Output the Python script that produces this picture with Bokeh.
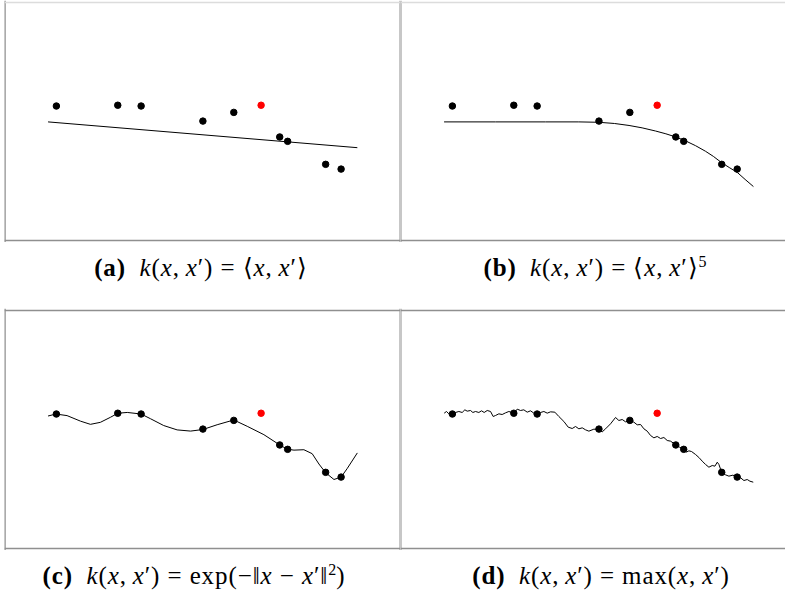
from bokeh.plotting import figure
from bokeh.layouts import column, row
from bokeh.models import Div, Span, Range1d
from bokeh.embed import file_html
from bokeh.resources import INLINE

# ---------------- data ----------------
obs_x = [1.31, 2.86, 3.45, 5.01, 5.79, 6.95, 7.15, 8.11, 8.50]
obs_y = [3.39, 3.41, 3.39, 3.01, 3.23, 2.61, 2.50, 1.92, 1.80]
test_x = [6.48]
test_y = [3.41]

# (a) linear kernel
lin_x = [1.10, 8.91]
lin_y = [2.99, 2.34]

# (b) polynomial kernel, degree 5
poly_x = [1.10, 2.40, 3.66, 4.50, 5.01, 5.40, 5.77, 6.10, 6.44, 6.70,
          6.95, 7.20, 7.45, 7.70, 7.90, 8.11, 8.30, 8.51, 8.70, 8.91]
poly_y = [2.99, 2.99, 2.99, 2.99, 2.98, 2.95, 2.90, 2.84, 2.76, 2.69,
          2.61, 2.51, 2.39, 2.25, 2.12, 1.96, 1.84, 1.71, 1.54, 1.36]

# (c) squared exponential kernel
rbf_x = [1.10, 1.30, 1.58, 1.92, 2.17, 2.42, 2.68, 2.86, 3.10, 3.45,
         3.69, 4.02, 4.36, 4.70, 5.01, 5.37, 5.79, 6.13, 6.55, 6.95,
         7.15, 7.31, 7.56, 7.77, 7.94, 8.11, 8.32, 8.50, 8.65, 8.91]
rbf_y = [3.34, 3.39, 3.35, 3.21, 3.13, 3.18, 3.31, 3.41, 3.43, 3.39,
         3.27, 3.10, 2.99, 2.96, 3.00, 3.12, 3.24, 3.08, 2.87, 2.61,
         2.50, 2.48, 2.49, 2.39, 2.13, 1.91, 1.74, 1.80, 2.01, 2.41]

# (d) max kernel (Brownian-like sample path)
bm_x = [1.103, 1.162, 1.221, 1.305, 1.389, 1.473, 1.557, 1.625, 1.684, 1.768,
        1.827, 1.894, 1.978, 2.045, 2.113, 2.189, 2.273, 2.340, 2.399, 2.483,
        2.567, 2.652, 2.736, 2.803, 2.862, 2.946, 3.030, 3.114, 3.199, 3.283,
        3.367, 3.451, 3.535, 3.620, 3.704, 3.788, 3.897, 3.998, 4.125, 4.234,
        4.335, 4.419, 4.503, 4.588, 4.672, 4.756, 4.882, 5.008, 5.093, 5.177,
        5.303, 5.429, 5.513, 5.598, 5.682, 5.791, 5.892, 5.976, 6.061, 6.145,
        6.229, 6.313, 6.397, 6.481, 6.566, 6.650, 6.734, 6.818, 6.953, 7.045,
        7.146, 7.214, 7.281, 7.348, 7.449, 7.534, 7.618, 7.702, 7.786, 7.870,
        7.938, 7.997, 8.039, 8.114, 8.207, 8.291, 8.392, 8.510, 8.586, 8.670,
        8.754, 8.822, 8.906]
bm_y = [3.412, 3.454, 3.395, 3.387, 3.429, 3.454, 3.429, 3.496, 3.462, 3.479,
        3.429, 3.454, 3.429, 3.471, 3.429, 3.479, 3.454, 3.328, 3.353, 3.395,
        3.378, 3.420, 3.454, 3.429, 3.412, 3.513, 3.479, 3.496, 3.437, 3.471,
        3.412, 3.387, 3.429, 3.454, 3.412, 3.445, 3.437, 3.328, 3.202, 3.059,
        3.025, 3.076, 3.017, 3.042, 2.992, 2.958, 3.008, 3.000, 2.941, 3.017,
        3.143, 3.303, 3.227, 3.252, 3.193, 3.235, 3.185, 3.118, 3.126, 3.017,
        2.958, 2.849, 2.790, 2.824, 2.773, 2.798, 2.723, 2.706, 2.613, 2.555,
        2.504, 2.429, 2.462, 2.445, 2.370, 2.294, 2.202, 2.118, 2.050, 2.092,
        2.076, 2.176, 2.118, 1.908, 1.857, 1.824, 1.849, 1.798, 1.782, 1.714,
        1.739, 1.697, 1.672]

SUP = "<span style='position:relative; top:-9px; font-size:16px; letter-spacing:0'>{}</span>"
KXX = "<i>k</i>(<i>x</i>,&thinsp;<i>x</i>&#8242;)&nbsp;=&nbsp;"
captions = [
    "<b>(a)</b>&ensp;" + KXX + "&#10216;<i>x</i>,&thinsp;<i>x</i>&#8242;&#10217;",
    "<b>(b)</b>&ensp;" + KXX + "&#10216;<i>x</i>,&thinsp;<i>x</i>&#8242;&#10217;" + SUP.format("5"),
    "<b>(c)</b>&ensp;" + KXX + "exp(&minus;&#8214;<i>x</i>&nbsp;&minus;&nbsp;<i>x</i>&#8242;&#8214;" + SUP.format("2") + ")",
    "<b>(d)</b>&ensp;" + KXX + "max(<i>x</i>,&thinsp;<i>x</i>&#8242;)",
]

BORDER = "#8f8f8f"
LIGHT = "#dcdcdc"


def panel(width, height, xr, yr, cx, cy, spans, margin):
    p = figure(width=width, height=height, x_range=Range1d(*xr), y_range=Range1d(*yr),
               output_backend="svg", toolbar_location=None, min_border=0,
               x_axis_location=None, y_axis_location=None, margin=margin)
    p.grid.visible = False
    p.outline_line_color = None
    p.background_fill_color = "white"
    p.border_fill_color = "white"
    for loc, dim, col, lw in spans:
        p.add_layout(Span(location=loc, dimension=dim, line_color=col, line_width=lw))
    p.line(cx, cy, line_color="black", line_width=1)
    p.scatter(obs_x, obs_y, size=6.5, color="black")
    p.scatter(test_x, test_y, size=6.5, color="red")
    return p


def caption(html, width, height, pad_top, pad_left, pad_right):
    style = (f"width:{width}px; box-sizing:border-box; text-align:center; "
             "font-family:'Liberation Serif', serif; font-size:25px; letter-spacing:0.9px; "
             f"line-height:24px; padding-top:{pad_top}px; padding-left:{pad_left}px; "
             f"padding-right:{pad_right}px; color:black; white-space:nowrap;")
    return Div(text=f"<div style=\"{style}\">{html}</div>", width=width, height=height,
               margin=0)


LW, RW = 396, 385
pa = panel(LW, 242, (0.0, 10.0), (-0.05, 6.05), lin_x, lin_y,
           [(0.0, "height", BORDER, 2.5), (10.0, "height", BORDER, 2),
            (6.0, "width", LIGHT, 1.5), (0.0, "width", BORDER, 1.5)], (0, 0, 0, 4))
pb = panel(RW, 242, (0.0, 9.72), (-0.05, 6.05), poly_x, poly_y,
           [(0.0, "height", BORDER, 2), (6.0, "width", LIGHT, 1.5),
            (0.0, "width", BORDER, 1.5)], 0)
pc = panel(LW, 242, (0.0, 10.0), (-0.05, 6.05), rbf_x, rbf_y,
           [(0.0, "height", BORDER, 2.5), (10.0, "height", BORDER, 2),
            (6.0, "width", BORDER, 1.5), (0.0, "width", BORDER, 1.5)], (0, 0, 0, 4))
pd = panel(RW, 242, (0.0, 9.72), (-0.05, 6.05), bm_x, bm_y,
           [(0.0, "height", BORDER, 2), (6.0, "width", BORDER, 1.5),
            (0.0, "width", BORDER, 1.5)], 0)

ca = caption(captions[0], 400, 66, 14, 2, 0)
cb = caption(captions[1], RW, 66, 14, 5, 0)
cc = caption(captions[2], 400, 38, 14, 0, 12)
cd = caption(captions[3], RW, 38, 14, 17, 0)

layout = column(row(pa, pb, spacing=0), row(ca, cb, spacing=0),
                row(pc, pd, spacing=0), row(cc, cd, spacing=0), spacing=0)

open("out.html", "w").write(file_html(layout, INLINE))
